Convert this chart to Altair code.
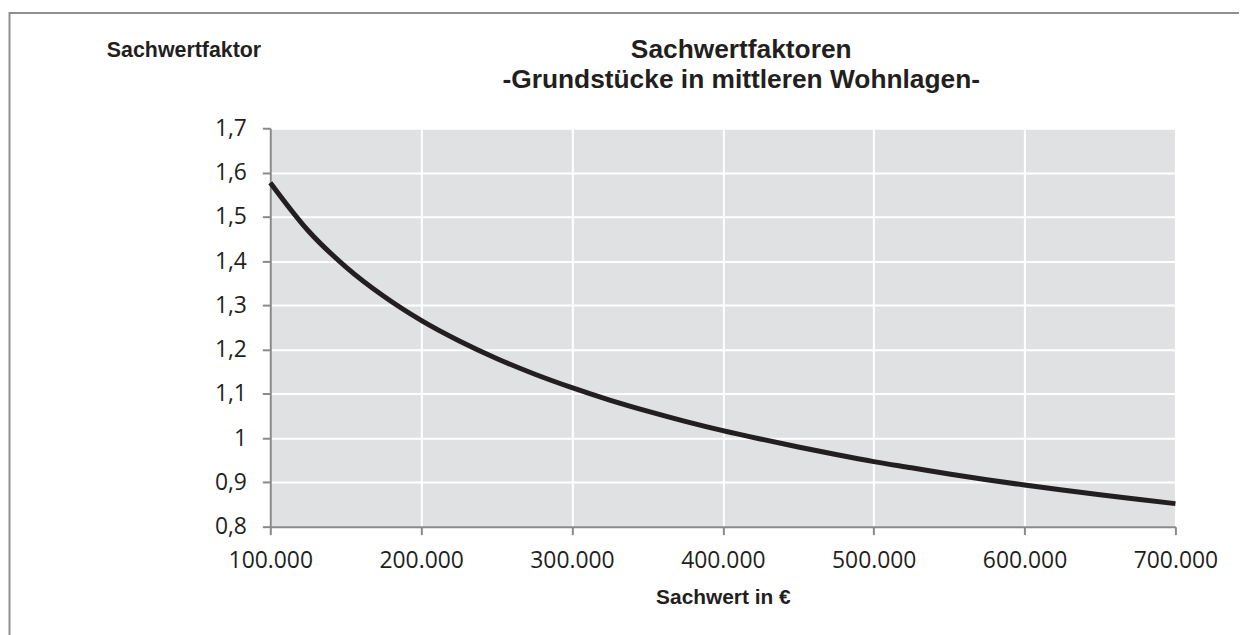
import altair as alt
import pandas as pd

# ---- data ----
sachwert = [100000, 125000, 150000, 175000, 200000, 225000, 250000, 275000,
            300000, 325000, 350000, 375000, 400000, 425000, 450000, 475000,
            500000, 525000, 550000, 575000, 600000, 625000, 650000, 675000,
            700000]
faktor = [1.577, 1.469, 1.387, 1.321, 1.266, 1.220, 1.180, 1.145,
          1.114, 1.086, 1.061, 1.038, 1.017, 0.998, 0.980, 0.963,
          0.947, 0.933, 0.919, 0.906, 0.894, 0.883, 0.872, 0.862,
          0.852]
x_ticks = [100000, 200000, 300000, 400000, 500000, 600000, 700000]
y_ticks = [0.8, 0.9, 1.0, 1.1, 1.2, 1.3, 1.4, 1.5, 1.6, 1.7]
title_lines = ["Sachwertfaktoren", "-Grundstücke in mittleren Wohnlagen-"]
x_title = "Sachwert in €"
y_title = "Sachwertfaktor"

df = pd.DataFrame({"Sachwert": sachwert, "Faktor": faktor})

AXIS_GRAY = "#898989"
TEXT = "#231f20"
LABEL_FONT = "Open Sans"
TITLE_FONT = "Liberation Sans"

line = alt.Chart(df).mark_line(
    color=TEXT, strokeWidth=5, interpolate="monotone"
).encode(
    x=alt.X(
        "Sachwert:Q",
        scale=alt.Scale(domain=[100000, 700000], nice=False, zero=False),
        axis=alt.Axis(
            values=x_ticks,
            labelExpr="replace(format(datum.value, ','), ',', '.')",
            title=x_title,
            titleFont=TITLE_FONT, titleFontSize=21, titleFontWeight="bold",
            titleColor=TEXT, titleBaseline="alphabetic", titleY=77,
            labelFont=LABEL_FONT, labelFontSize=23, labelColor=TEXT,
            labelPadding=15, labelFlush=False, labelOverlap=False,
            domainColor=AXIS_GRAY, domainWidth=2,
            tickColor=AXIS_GRAY, tickWidth=2, tickSize=8,
            gridColor="white", gridWidth=2, gridOpacity=1,
        ),
    ),
    y=alt.Y(
        "Faktor:Q",
        scale=alt.Scale(domain=[0.8, 1.7], nice=False, zero=False),
        axis=alt.Axis(
            values=y_ticks,
            labelExpr="replace(format(datum.value, '.1~f'), '.', ',')",
            title=y_title,
            titleFont=TITLE_FONT, titleFontSize=21.5, titleFontWeight="bold",
            titleColor=TEXT, titleAngle=0, titleAlign="left",
            titleBaseline="alphabetic", titleX=-165, titleY=-72,
            labelFont=LABEL_FONT, labelFontSize=23, labelColor=TEXT,
            labelPadding=16, labelFlush=False, labelOverlap=False,
            domainColor=AXIS_GRAY, domainWidth=2,
            tickColor=AXIS_GRAY, tickWidth=2, tickSize=8,
            gridColor="white", gridWidth=2, gridOpacity=1,
        ),
    ),
)

frame_df = pd.DataFrame({"k": [0]})
top_border = alt.Chart(frame_df).mark_rule(color="#8f8f8f", strokeWidth=2).encode(
    x=alt.value(-263), x2=alt.value(1000), y=alt.value(-116)
)
left_border = alt.Chart(frame_df).mark_rule(color="#8f8f8f", strokeWidth=2).encode(
    x=alt.value(-262.5), y=alt.value(-117), y2=alt.value(520)
)

title_style = dict(font=TITLE_FONT, fontSize=26.5, fontWeight="bold", color=TEXT,
                   align="center", baseline="alphabetic")
title1 = alt.Chart(frame_df).mark_text(text=title_lines[0], **title_style).encode(
    x=alt.value(474), y=alt.value(-71)
)
title2 = alt.Chart(frame_df).mark_text(text=title_lines[1], **title_style).encode(
    x=alt.value(474), y=alt.value(-41)
)

chart = alt.layer(line, top_border, left_border, title1, title2).properties(
    width=911,
    height=401,
    autosize=alt.AutoSizeParams(type="none"),
    padding={"left": 264, "top": 119, "right": 64, "bottom": 107},
    background="white",
).configure_view(
    fill="#e0e1e3", stroke="transparent"
)

chart.save("out.html", embed_options={"renderer": "svg", "actions": False})
